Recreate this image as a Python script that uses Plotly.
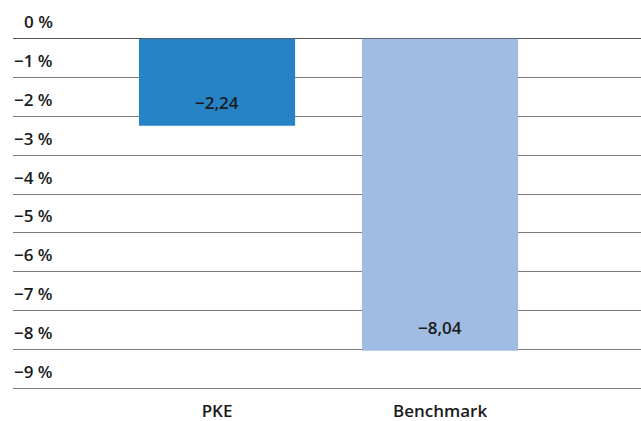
import plotly.graph_objects as go

categories = ["PKE", "Benchmark"]
values = [-2.24, -8.04]
colors = ["#2683C6", "#A0BCE3"]
tick_values = [0, -1, -2, -3, -4, -5, -6, -7, -8, -9]
tick_labels = ["0 %", "−1 %", "−2 %", "−3 %", "−4 %", "−5 %", "−6 %", "−7 %", "−8 %", "−9 %"]
value_labels = ["−2,24", "−8,04"]

FONT = "Open Sans"
TXT = "#1a1a1a"

fig = go.Figure()
fig.add_trace(go.Bar(
    x=categories, y=values, marker=dict(color=colors, line=dict(width=0)),
    width=0.70, hoverinfo="skip",
))

annotations = []
for v, lab in zip(tick_values, tick_labels):
    annotations.append(dict(
        x=0.067, xref="paper", xanchor="right", y=v, yref="y", yanchor="middle",
        yshift=17, text=lab, showarrow=False,
        font=dict(family=FONT, size=17, color=TXT, weight=600),
    ))
for c, v, lab in zip(categories, values, value_labels):
    annotations.append(dict(
        x=c, xref="x", y=v, yref="y", yanchor="middle", yshift=23,
        text=lab, showarrow=False,
        font=dict(family=FONT, size=17, color=TXT, weight=600),
    ))

fig.update_layout(
    width=641, height=421,
    margin=dict(l=13, r=0, t=38, b=31),
    paper_bgcolor="white", plot_bgcolor="white",
    showlegend=False,
    annotations=annotations,
    xaxis=dict(
        range=[-0.915, 1.901], showgrid=False, zeroline=False, showline=False,
        ticks="", ticklabelstandoff=9, automargin=False,
        tickfont=dict(family=FONT, size=17, color=TXT, weight=600),
    ),
    yaxis=dict(
        range=[-9.05, 0.02], tickvals=tick_values, showticklabels=False,
        showgrid=True, gridcolor="#7a7a7a", gridwidth=1, automargin=False,
        zeroline=True, zerolinecolor="#555555", zerolinewidth=1,
        showline=False, ticks="",
    ),
)

fig.write_html("out.html")
